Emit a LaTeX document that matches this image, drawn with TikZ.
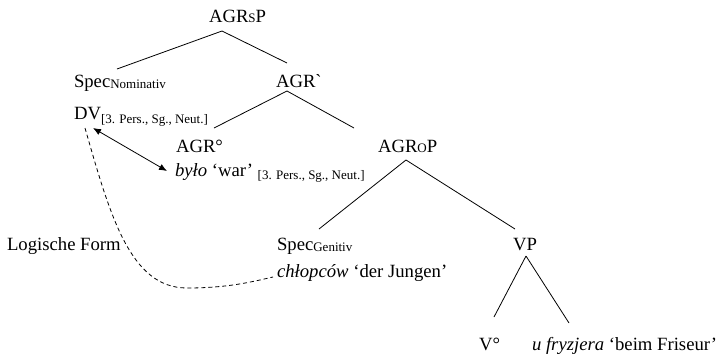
\documentclass[tikz,border=0pt]{standalone}
\usepackage{fontspec}
\setmainfont{Liberation Serif}
\newfontfamily\plainserif{Liberation Serif}
\usetikzlibrary{arrows.meta}
\newcommand{\lowsub}[2]{\raisebox{-#1pt}{\fontsize{13}{14}\selectfont #2}}
\begin{document}
\begin{tikzpicture}[x=1pt,y=-1pt,
  lbl/.style={anchor=base west,inner sep=0pt,outer sep=0pt,font=\fontsize{18.7}{22}\selectfont},
  branch/.style={line width=0.8pt},
  dbl/.style={line width=0.8pt,{Latex[length=8pt,width=6.5pt]}-{Latex[length=8pt,width=6.5pt]}},
  lfdash/.style={line width=0.8pt,dash pattern=on 4pt off 3pt}]
\useasboundingbox (0,0) rectangle (718,354);
% text nodes
\node[lbl] (agrsp) at (209,22) {AGR\lowsub{0.5}{S}P};
\node[lbl] (specnom) at (74,87) {Spec\lowsub{1.5}{Nominativ}};
\node[lbl] (agrbar) at (276,87) {AGR{\plainserif`}};
\node[lbl] (dv) at (74,119) {DV\lowsub{4}{[3. Pers., Sg., Neut.]}};
\node[lbl] (agrhead) at (176,152) {AGR°};
\node[lbl] (bylo) at (175,176) {\textit{było} ‘war’ \lowsub{3}{[3. Pers., Sg., Neut.]}};
\node[lbl] (agrop) at (378,152) {AGR\lowsub{0.5}{O}P};
\node[lbl] (specgen) at (277,250) {Spec\lowsub{1.5}{Genitiv}};
\node[lbl] (vp) at (513,250) {VP};
\node[lbl] (chl) at (277,277) {\textit{chłopców} ‘der Jungen’};
\node[lbl] (lf) at (7,250) {Logische Form};
\node[lbl] (vhead) at (479,350) {V°};
\node[lbl] (ufr) at (532,350) {\textit{u fryzjera} ‘beim Friseur’};
% branch points
\coordinate (spapex) at (222,31);
\coordinate (specnomtop) at (117,69);
\coordinate (agrbartop) at (287,63);
\coordinate (barapex) at (287,91);
\coordinate (agrheadtop) at (214,128);
\coordinate (agroptop) at (354,128);
\coordinate (opapex) at (406,160);
\coordinate (specgentop) at (319,229);
\coordinate (vptop) at (515,229);
\coordinate (vpapex) at (526,256);
\coordinate (vheadtop) at (494,317);
\coordinate (ufrtop) at (569,323);
\coordinate (dvarr) at (93,128);
\coordinate (byloarr) at (167,171);
\coordinate (dvdash) at (85,128);
\coordinate (chldash) at (273,277);
% branches
\draw[branch] (spapex) -- (specnomtop);
\draw[branch] (spapex) -- (agrbartop);
\draw[branch] (barapex) -- (agrheadtop);
\draw[branch] (barapex) -- (agroptop);
\draw[branch] (opapex) -- (specgentop);
\draw[branch] (opapex) -- (vptop);
\draw[branch] (vpapex) -- (vheadtop);
\draw[branch] (vpapex) -- (ufrtop);
% agreement arrow
\draw[dbl] (dvarr) -- (byloarr);
% LF movement
\draw[lfdash] (dvdash) .. controls (110,215) and (130,288) .. (187,288)
  .. controls (230,288) and (255,281) .. (chldash);
\end{tikzpicture}
\end{document}
